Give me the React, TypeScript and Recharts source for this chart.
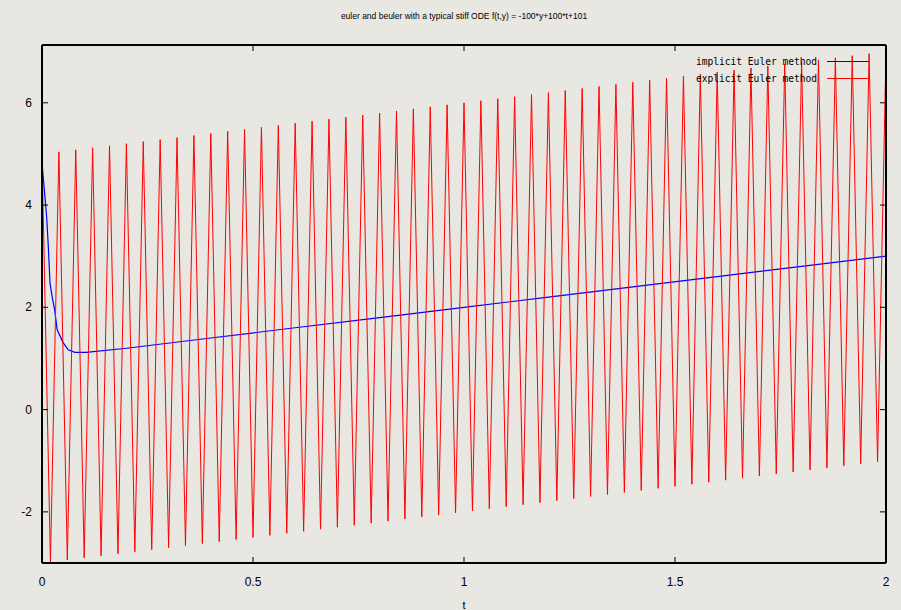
import { LineChart, Line, XAxis, YAxis, Legend } from "recharts";

const title = "euler and beuler with a typical stiff ODE f(t,y) = -100*y+100*t+101";

// explicit Euler, step 0.02
const stepT = [
  0, 0.02, 0.04, 0.06, 0.08, 0.1, 0.12, 0.14, 0.16, 0.18,
  0.2, 0.22, 0.24, 0.26, 0.28, 0.3, 0.32, 0.34, 0.36, 0.38,
  0.4, 0.42, 0.44, 0.46, 0.48, 0.5, 0.52, 0.54, 0.56, 0.58,
  0.6, 0.62, 0.64, 0.66, 0.68, 0.7, 0.72, 0.74, 0.76, 0.78,
  0.8, 0.82, 0.84, 0.86, 0.88, 0.9, 0.92, 0.94, 0.96, 0.98,
  1.0, 1.02, 1.04, 1.06, 1.08, 1.1, 1.12, 1.14, 1.16, 1.18,
  1.2, 1.22, 1.24, 1.26, 1.28, 1.3, 1.32, 1.34, 1.36, 1.38,
  1.4, 1.42, 1.44, 1.46, 1.48, 1.5, 1.52, 1.54, 1.56, 1.58,
  1.6, 1.62, 1.64, 1.66, 1.68, 1.7, 1.72, 1.74, 1.76, 1.78,
  1.8, 1.82, 1.84, 1.86, 1.88, 1.9, 1.92, 1.94, 1.96, 1.98,
  2.0,
];
const explicitY = [
  5.0, -2.98, 5.04, -2.94, 5.08, -2.9, 5.12, -2.86, 5.16, -2.82,
  5.2, -2.78, 5.24, -2.74, 5.28, -2.7, 5.32, -2.66, 5.36, -2.62,
  5.4, -2.58, 5.44, -2.54, 5.48, -2.5, 5.52, -2.46, 5.56, -2.42,
  5.6, -2.38, 5.64, -2.34, 5.68, -2.3, 5.72, -2.26, 5.76, -2.22,
  5.8, -2.18, 5.84, -2.14, 5.88, -2.1, 5.92, -2.06, 5.96, -2.02,
  6.0, -1.98, 6.04, -1.94, 6.08, -1.9, 6.12, -1.86, 6.16, -1.82,
  6.2, -1.78, 6.24, -1.74, 6.28, -1.7, 6.32, -1.66, 6.36, -1.62,
  6.4, -1.58, 6.44, -1.54, 6.48, -1.5, 6.52, -1.46, 6.56, -1.42,
  6.6, -1.38, 6.64, -1.34, 6.68, -1.3, 6.72, -1.26, 6.76, -1.22,
  6.8, -1.18, 6.84, -1.14, 6.88, -1.1, 6.92, -1.06, 6.96, -1.02,
  7.0,
];

// implicit Euler
const implicitT = [0, 0.007, 0.011, 0.015, 0.019, 0.024, 0.03, 0.036, 0.05, 0.062, 0.078, 0.105, 0.2, 0.4, 0.6, 0.8, 1.0, 1.2, 1.4, 1.6, 1.8, 2.0];
const implicitY = [4.82, 4.16, 3.77, 3.18, 2.47, 2.21, 1.95, 1.56, 1.31, 1.17, 1.12, 1.12, 1.2, 1.4, 1.6, 1.8, 2.0, 2.2, 2.4, 2.6, 2.8, 3.0];

const xTicks = [0, 0.5, 1, 1.5, 2];
const yTicks = [-2, 0, 2, 4, 6];

const explicitData = stepT.map((t, i) => ({ t, y: explicitY[i] }));
const implicitData = implicitT.map((t, i) => ({ t, y: implicitY[i] }));

const bg = "#e8e7e2";
const tickFont = { fontFamily: "Liberation Sans", fontSize: 12, fill: "#000" };

const BottomTick = (p: any) => (
  <g>
    <line x1={p.x} y1={p.y} x2={p.x} y2={p.y - 6} stroke="#000" />
    <text x={p.x} y={p.y + 23} textAnchor="middle" {...tickFont}>{p.payload.value}</text>
  </g>
);
const TopTick = (p: any) => <line x1={p.x} y1={p.y} x2={p.x} y2={p.y + 6} stroke="#000" />;
const LeftTick = (p: any) => (
  <g>
    <line x1={p.x} y1={p.y} x2={p.x + 6} y2={p.y} stroke="#000" />
    <text x={p.x - 10} y={p.y + 4} textAnchor="end" {...tickFont}>{p.payload.value}</text>
  </g>
);
const RightTick = (p: any) => <line x1={p.x} y1={p.y} x2={p.x - 6} y2={p.y} stroke="#000" />;

const KeyBox = () => (
  <svg width={901} height={100} style={{ display: "block" }}>
    <text x={696} y={65} textLength={121} lengthAdjust="spacingAndGlyphs" fontFamily="DejaVu Sans Mono" fontSize={11} fill="#000">
      implicit Euler method
    </text>
    <line x1={827} y1={61.5} x2={869} y2={61.5} stroke="#0000ff" />
    <text x={696} y={82} textLength={121} lengthAdjust="spacingAndGlyphs" fontFamily="DejaVu Sans Mono" fontSize={11} fill="#000">
      explicit Euler method
    </text>
    <line x1={827} y1={78.5} x2={869} y2={78.5} stroke="#ff0000" />
  </svg>
);

export default function App() {
  return (
    <div style={{ position: "fixed", left: 0, top: 0, width: 901, height: 610, background: bg, overflow: "hidden" }}>
      <LineChart width={901} height={610} margin={{ top: 0, right: 0, bottom: 0, left: 0 }}>
        <XAxis
          xAxisId="bottom"
          dataKey="t"
          type="number"
          domain={[0, 2]}
          allowDataOverflow
          ticks={xTicks}
          height={47}
          tickSize={0}
          tickMargin={0}
          tick={BottomTick}
          axisLine={{ stroke: "#000", strokeWidth: 2 }}
          label={{ value: "t", position: "insideBottom", offset: 1, fontFamily: "Liberation Sans", fontSize: 11, fill: "#000" }}
        />
        <XAxis
          xAxisId="top"
          orientation="top"
          dataKey="t"
          type="number"
          domain={[0, 2]}
          allowDataOverflow
          ticks={xTicks}
          height={45}
          tickSize={0}
          tickMargin={0}
          tick={TopTick}
          axisLine={{ stroke: "#000", strokeWidth: 2 }}
          label={{ value: title, position: "insideTop", offset: 13, fontFamily: "Liberation Sans", fontSize: 8.5, fill: "#000" }}
        />
        <YAxis
          yAxisId="left"
          type="number"
          domain={[-3, 7.13]}
          allowDataOverflow
          ticks={yTicks}
          width={42}
          tickSize={0}
          tickMargin={0}
          tick={LeftTick}
          axisLine={{ stroke: "#000", strokeWidth: 2 }}
        />
        <YAxis
          yAxisId="right"
          orientation="right"
          type="number"
          domain={[-3, 7.13]}
          allowDataOverflow
          ticks={yTicks}
          width={15}
          tickSize={0}
          tickMargin={0}
          tick={RightTick}
          axisLine={{ stroke: "#000", strokeWidth: 2 }}
        />
        <Legend
          layout="horizontal"
          verticalAlign="middle"
          align="center"
          wrapperStyle={{ position: "absolute", left: 0, top: 0, width: 901, height: 100, pointerEvents: "none" }}
          content={() => <KeyBox />}
        />
        <Line
          xAxisId="bottom"
          yAxisId="left"
          data={implicitData}
          dataKey="y"
          name="implicit Euler method"
          stroke="#0000ff"
          strokeWidth={1.2}
          dot={false}
          isAnimationActive={false}
        />
        <Line
          xAxisId="bottom"
          yAxisId="left"
          data={explicitData}
          dataKey="y"
          name="explicit Euler method"
          stroke="#ff0000"
          strokeWidth={1}
          dot={false}
          isAnimationActive={false}
        />
      </LineChart>
    </div>
  );
}
